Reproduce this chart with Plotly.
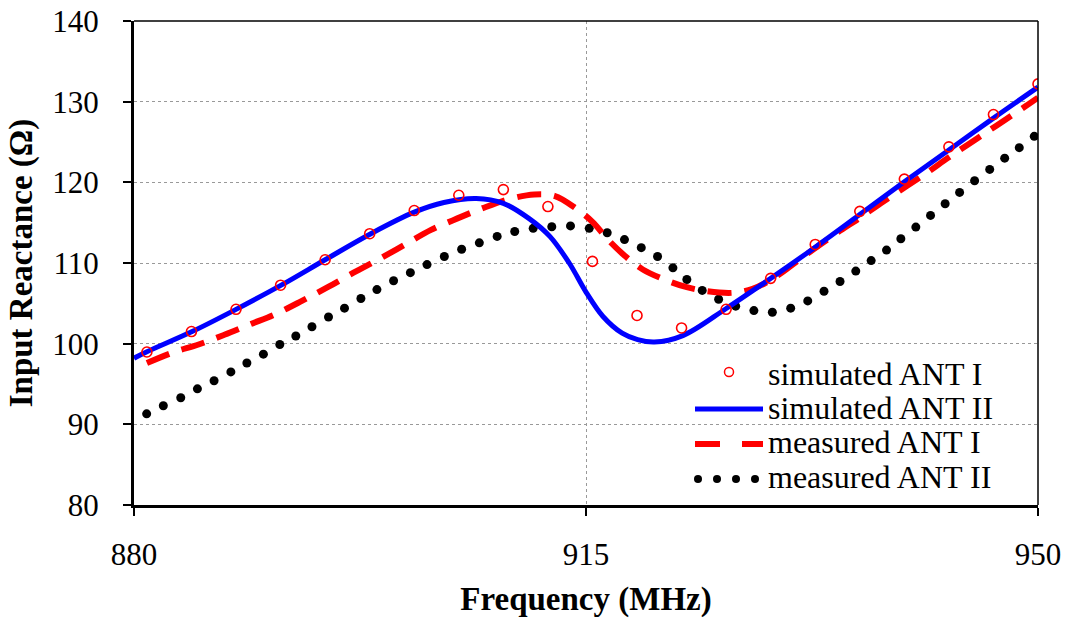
import plotly.graph_objects as go

# ---------------- data ----------------
sim1_freq = [881.0, 884.45, 887.9, 891.35, 894.8, 898.25, 901.7, 905.15, 908.6, 912.05,
             915.5, 918.95, 922.4, 925.85, 929.3, 932.75, 936.2, 939.65, 943.1, 946.55, 950.0]
sim1_x = [98.97, 101.5, 104.26, 107.25, 110.4, 113.63, 116.5, 118.4, 119.1, 117.0,
          110.2, 103.5, 101.95, 104.26, 108.1, 112.3, 116.4, 120.4, 124.4, 128.4, 132.2]

sim2_freq = [880.0, 881.0, 884.5, 887.9, 891.4, 894.8, 898.3, 901.7, 904.0, 906.5, 908.6,
             910.6, 912.2, 913.7, 915.0, 916.3, 917.8, 919.0, 920.3, 922.5, 925.8, 928.4,
             932.7, 936.2, 939.6, 943.1, 946.5, 950.0]
sim2_x = [98.2, 99.0, 101.5, 104.25, 107.25, 110.4, 113.6, 116.3, 117.5, 118.0, 117.4,
          115.5, 113.3, 110.0, 106.4, 103.4, 101.3, 100.5, 100.2, 101.0, 104.3, 107.1,
          111.9, 116.0, 120.0, 124.0, 127.9, 131.8]

meas1_freq = [881.0, 883.0, 885.0, 887.0, 889.0, 891.0, 893.0, 895.0, 897.0, 899.0, 901.0,
              903.0, 905.0, 907.0, 909.0, 911.0, 912.6, 914.1, 915.5, 916.7, 918.0, 919.4,
              921.0, 922.8, 924.4, 926.3, 927.9, 929.4, 931.0, 932.7, 934.5, 936.2, 938.0,
              939.9, 941.5, 943.0, 944.5, 946.0, 947.5, 949.0, 950.0]
meas1_x = [97.6, 98.9, 99.9, 101.1, 102.4, 103.7, 105.3, 107.0, 108.8, 110.5, 112.3,
           114.1, 115.5, 116.8, 117.9, 118.5, 118.3, 116.9, 115.1, 112.9, 110.9, 109.2,
           108.0, 107.0, 106.5, 106.3, 106.8, 108.0, 109.8, 111.8, 113.8, 115.6, 117.6,
           119.6, 121.3, 123.0, 124.6, 126.2, 127.8, 129.4, 130.5]

meas2_freq = [880.98, 882.27, 883.62, 884.91, 886.2, 887.5, 888.74, 890.02, 891.29, 892.53,
              893.78, 895.06, 896.3, 897.57, 898.81, 900.1, 901.4, 902.69, 904.03, 905.37,
              906.74, 908.12, 909.48, 910.91, 912.35, 913.8, 915.25, 916.64, 917.98, 919.28,
              920.54, 921.73, 922.81, 924.0, 925.27, 926.59, 928.0, 929.43, 930.85, 932.17,
              933.43, 934.67, 935.89, 937.08, 938.27, 939.38, 940.54, 941.68, 942.81, 943.93,
              945.09, 946.26, 947.42, 948.55, 949.71]
meas2_x = [91.3, 92.3, 93.3, 94.4, 95.4, 96.5, 97.6, 98.7, 99.9, 100.95,
           102.1, 103.3, 104.4, 105.6, 106.7, 107.8, 108.8, 109.8, 110.8, 111.7,
           112.5, 113.3, 113.9, 114.3, 114.5, 114.6, 114.3, 113.75, 112.9, 111.9,
           110.8, 109.4, 107.95, 106.6, 105.5, 104.65, 104.1, 103.9, 104.4, 105.3,
           106.5, 107.7, 109.0, 110.3, 111.6, 113.0, 114.45, 115.9, 117.35, 118.75,
           120.2, 121.6, 123.0, 124.3, 125.7]

series_names = ["simulated ANT I", "simulated ANT II", "measured ANT I", "measured ANT II"]
x_ticks = [880, 915, 950]
y_ticks = [80, 90, 100, 110, 120, 130, 140]

# ---------------- layout constants ----------------
W, H = 1069, 620
ML, MR, MT, MB = 134, 31, 21, 115
PW, PH = W - ML - MR, H - MT - MB
FONT = "Liberation Serif, Times New Roman, serif"


def px(x):
    return (x - ML) / PW


def py(y):
    return (H - MB - y) / PH


fig = go.Figure()

fig.add_trace(go.Scatter(x=meas2_freq, y=meas2_x, mode="markers", name=series_names[3],
                         marker=dict(color="black", size=9), showlegend=False))
fig.add_trace(go.Scatter(x=meas1_freq, y=meas1_x, mode="lines", name=series_names[2],
                         line=dict(color="#ff0000", width=6, dash="24px,13px", shape="spline"),
                         showlegend=False))
fig.add_trace(go.Scatter(x=sim2_freq, y=sim2_x, mode="lines", name=series_names[1],
                         line=dict(color="#0000ff", width=5, shape="spline"), showlegend=False))
fig.add_trace(go.Scatter(x=sim1_freq, y=sim1_x, mode="markers", name=series_names[0],
                         marker=dict(symbol="circle-open", color="#ff0000", size=10,
                                     line=dict(width=1.6, color="#ff0000")),
                         showlegend=False))

shapes = []
# frame top & right (thin)
shapes.append(dict(type="line", xref="paper", yref="paper", x0=0, x1=1, y0=1, y1=1,
                   line=dict(color="black", width=1.5), layer="above"))
shapes.append(dict(type="line", xref="paper", yref="paper", x0=1, x1=1, y0=0, y1=1,
                   line=dict(color="black", width=1.5), layer="above"))

# manual legend samples
leg_text_y = [374, 408, 442, 477]
# circle sample
shapes.append(dict(type="circle", xref="paper", yref="paper", xsizemode="pixel", ysizemode="pixel",
                   xanchor=px(729), yanchor=py(372), x0=-4.5, x1=4.5, y0=-4.5, y1=4.5,
                   line=dict(color="#ff0000", width=1.5), fillcolor="rgba(0,0,0,0)"))
# blue line sample
shapes.append(dict(type="line", xref="paper", yref="paper", x0=px(695), x1=px(763),
                   y0=py(409), y1=py(409), line=dict(color="#0000ff", width=5)))
# red dashes
for a, b in [(695, 720), (742, 763)]:
    shapes.append(dict(type="line", xref="paper", yref="paper", x0=px(a), x1=px(b),
                       y0=py(444), y1=py(444), line=dict(color="#ff0000", width=6)))
# black dots
for cx in [698, 717, 736, 755]:
    shapes.append(dict(type="circle", xref="paper", yref="paper", xsizemode="pixel",
                       ysizemode="pixel", xanchor=px(cx), yanchor=py(479),
                       x0=-4, x1=4, y0=-4, y1=4, line=dict(color="black", width=0),
                       fillcolor="black"))

annotations = []
for name, ty in zip(series_names, leg_text_y):
    annotations.append(dict(xref="paper", yref="paper", x=px(766), y=py(ty), text=name,
                            showarrow=False, xanchor="left", yanchor="middle",
                            font=dict(family=FONT, size=32, color="black")))

fig.update_layout(
    width=W, height=H,
    margin=dict(l=ML, r=MR, t=MT, b=MB),
    paper_bgcolor="white", plot_bgcolor="white",
    font=dict(family=FONT, color="black"),
    shapes=shapes, annotations=annotations,
    showlegend=False,
)
fig.update_xaxes(
    range=[880, 950], tickvals=x_ticks, ticktext=[str(v) for v in x_ticks],
    automargin=False,
    showline=True, linecolor="black", linewidth=3,
    ticks="outside", ticklen=8, tickwidth=2, tickcolor="black",
    showgrid=True, gridcolor="#999999", griddash="dot", gridwidth=1,
    zeroline=False, tickfont=dict(family=FONT, size=31, color="black"),
    ticklabelstandoff=12,
    title=dict(text="<b>Frequency (MHz)</b>", font=dict(family=FONT, size=33, color="black"),
               standoff=16),
)
fig.update_yaxes(
    range=[80, 140], tickvals=y_ticks, ticktext=[str(v) for v in y_ticks],
    automargin=False,
    showline=True, linecolor="black", linewidth=3,
    ticks="outside", ticklen=8, tickwidth=2, tickcolor="black",
    showgrid=True, gridcolor="#999999", griddash="dot", gridwidth=1,
    zeroline=False, tickfont=dict(family=FONT, size=31, color="black"),
    ticklabelstandoff=18,
    title=dict(text="<b>Input Reactance (Ω)</b>", font=dict(family=FONT, size=33, color="black"),
               standoff=10),
)

fig.write_html("out.html")
